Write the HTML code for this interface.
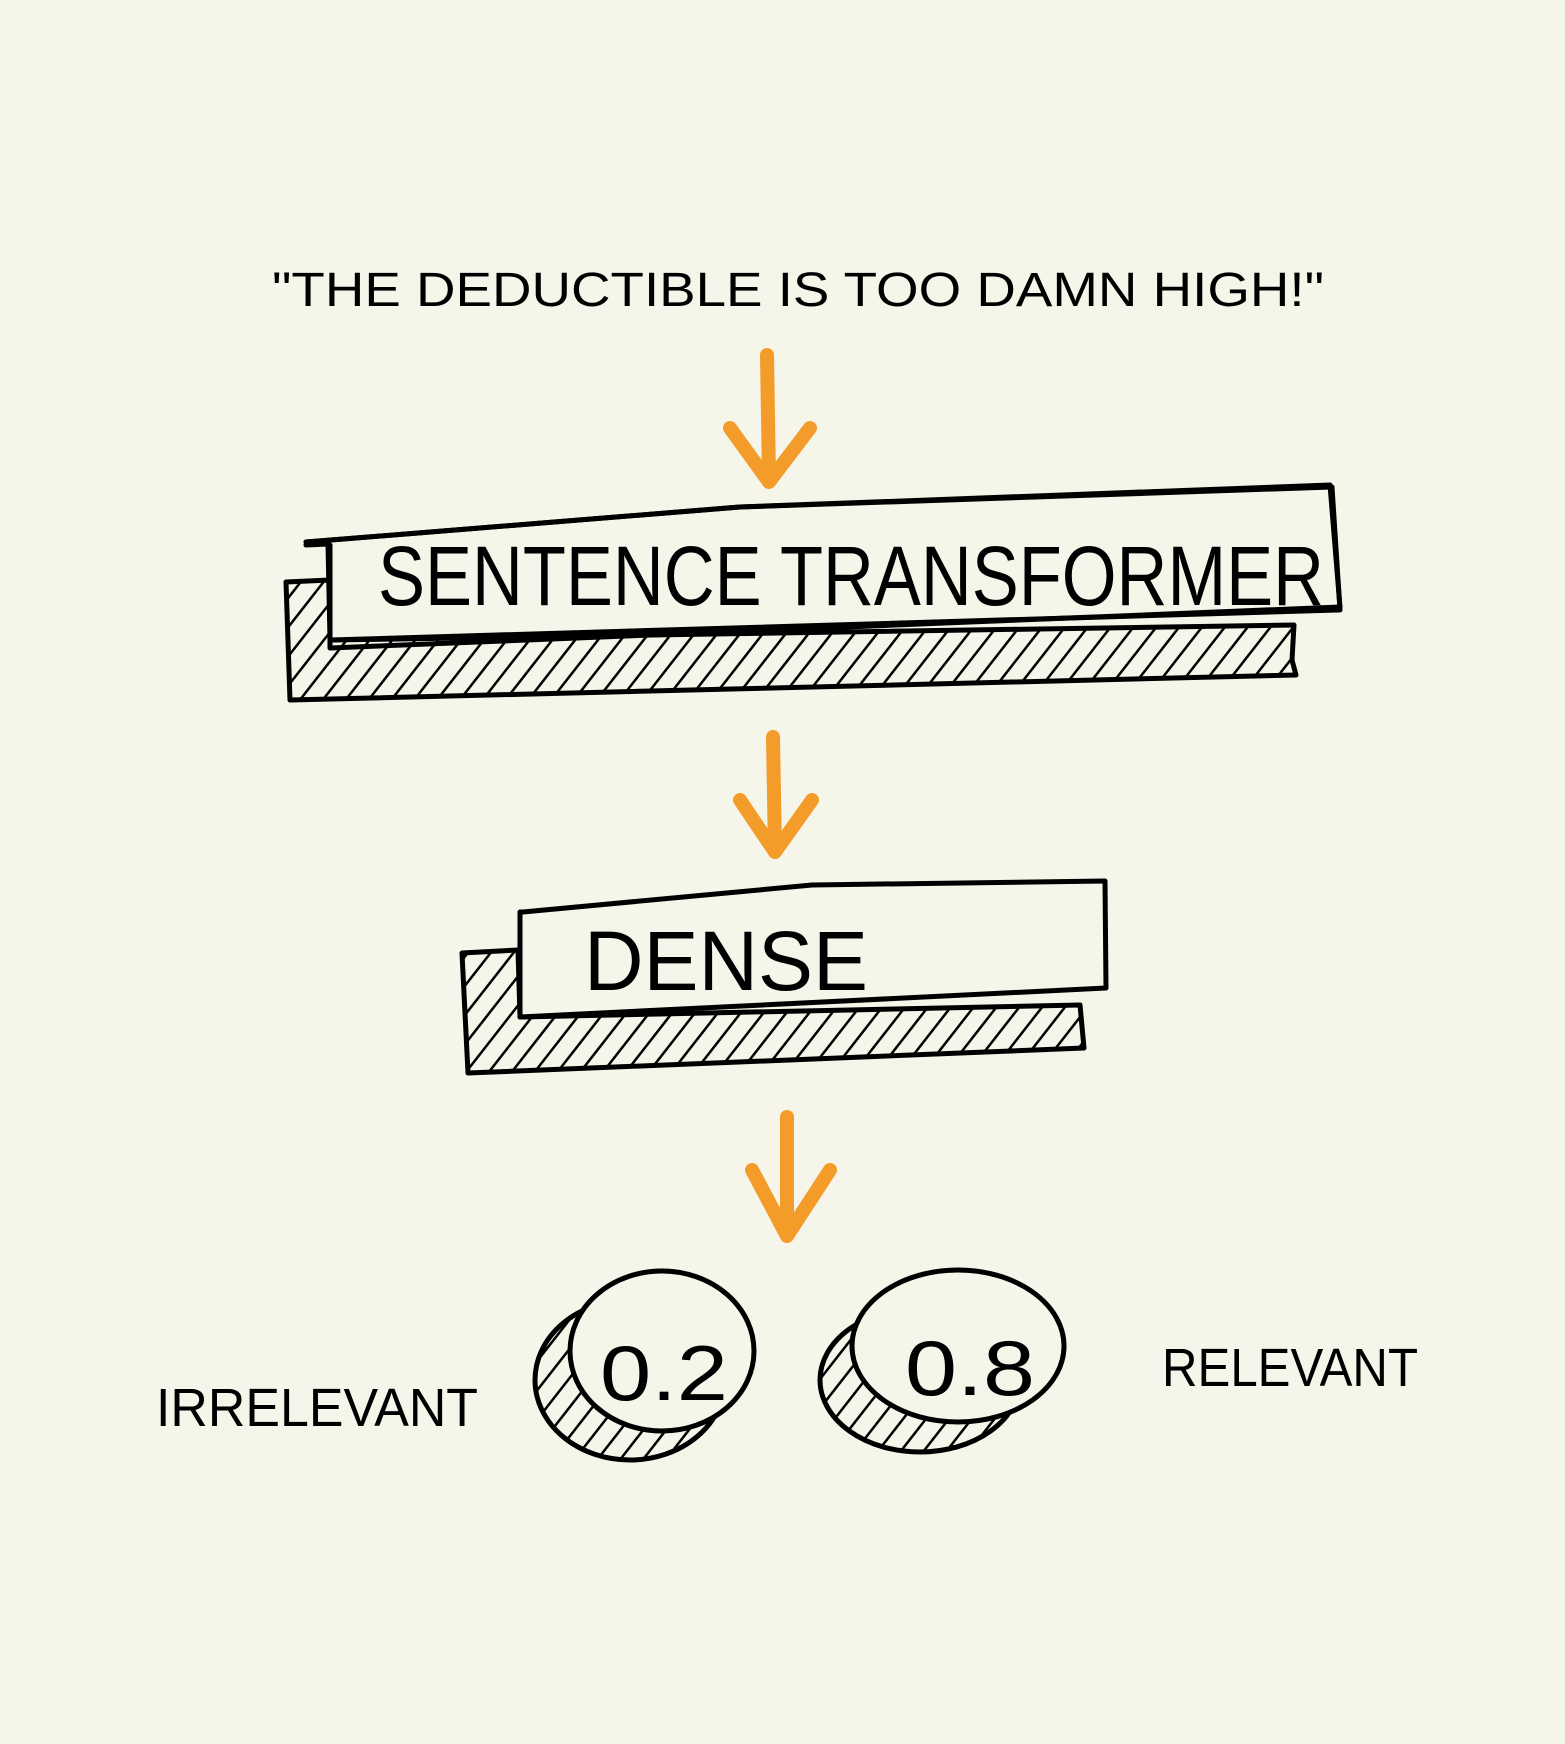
<!DOCTYPE html>
<html><head><meta charset="utf-8"><style>
html,body{margin:0;padding:0;background:#f5f5ea;}
svg{display:block}
text{font-family:"Liberation Sans",sans-serif;fill:#000;}
</style></head><body>
<svg width="1565" height="1744" viewBox="0 0 1565 1744" xmlns="http://www.w3.org/2000/svg">
<defs>
<pattern id="h" width="18" height="18" patternUnits="userSpaceOnUse" patternTransform="rotate(38)">
<line x1="0" y1="0" x2="0" y2="18" stroke="#000" stroke-width="5"/>
</pattern>
</defs>
<rect width="1565" height="1744" fill="#f5f5ea"/>
<text x="272" y="306" font-size="48" textLength="1052" lengthAdjust="spacingAndGlyphs">"THE DEDUCTIBLE IS TOO DAMN HIGH!"</text>

<g stroke="#f39c2a" stroke-width="14" stroke-linecap="round" stroke-linejoin="round" fill="none">
<path d="M767 355 L769 480 M730 428 L769 482 L810 428"/>
<path d="M773 737 L775 852 M740 800 L775 852 L812 800"/>
<path d="M787 1117 L787 1236 M752 1170 L787 1236 L830 1170"/>
</g>

<g stroke="#000" stroke-width="5" fill="none" stroke-linejoin="round" stroke-linecap="round">
<path d="M286 582 L330 580 L330 640 L1294 625 L1292 660 L1296 675 L290 700 Z" fill="url(#h)"/>
<path d="M306 545 L328 544 L330 640 L1338 610 L1340 610 L1332 487 L740 507 L306 542" fill="#f5f5ea"/>
<path d="M306 542 L740 507 L1330 485 L1340 607 L330 648 L330 545"/>
<path d="M462 953 L518 950 L520 1017 L1080 1005 L1084 1048 L468 1073 Z" fill="url(#h)"/>
<path d="M523 912 L812 885 L1105 881 L1106 988 L520 1017 L520 912 Z" fill="#f5f5ea"/>
<ellipse cx="630" cy="1380" rx="95" ry="80" fill="url(#h)"/>
<ellipse cx="920" cy="1380" rx="100" ry="72" fill="url(#h)"/>
<ellipse cx="662" cy="1351" rx="92" ry="80" fill="#f5f5ea"/>
<ellipse cx="958" cy="1346" rx="106" ry="76" fill="#f5f5ea"/>
</g>

<text x="378" y="605" font-size="84" textLength="946" lengthAdjust="spacingAndGlyphs">SENTENCE TRANSFORMER</text>
<text x="584" y="990" font-size="84" textLength="284" lengthAdjust="spacingAndGlyphs">DENSE</text>
<text x="600" y="1400" font-size="78" textLength="128" lengthAdjust="spacingAndGlyphs">0.2</text>
<text x="905" y="1395" font-size="78" textLength="130" lengthAdjust="spacingAndGlyphs">0.8</text>
<text x="156" y="1426" font-size="54" textLength="322" lengthAdjust="spacingAndGlyphs">IRRELEVANT</text>
<text x="1162" y="1386" font-size="54" textLength="256" lengthAdjust="spacingAndGlyphs">RELEVANT</text>
</svg>
</body></html>
